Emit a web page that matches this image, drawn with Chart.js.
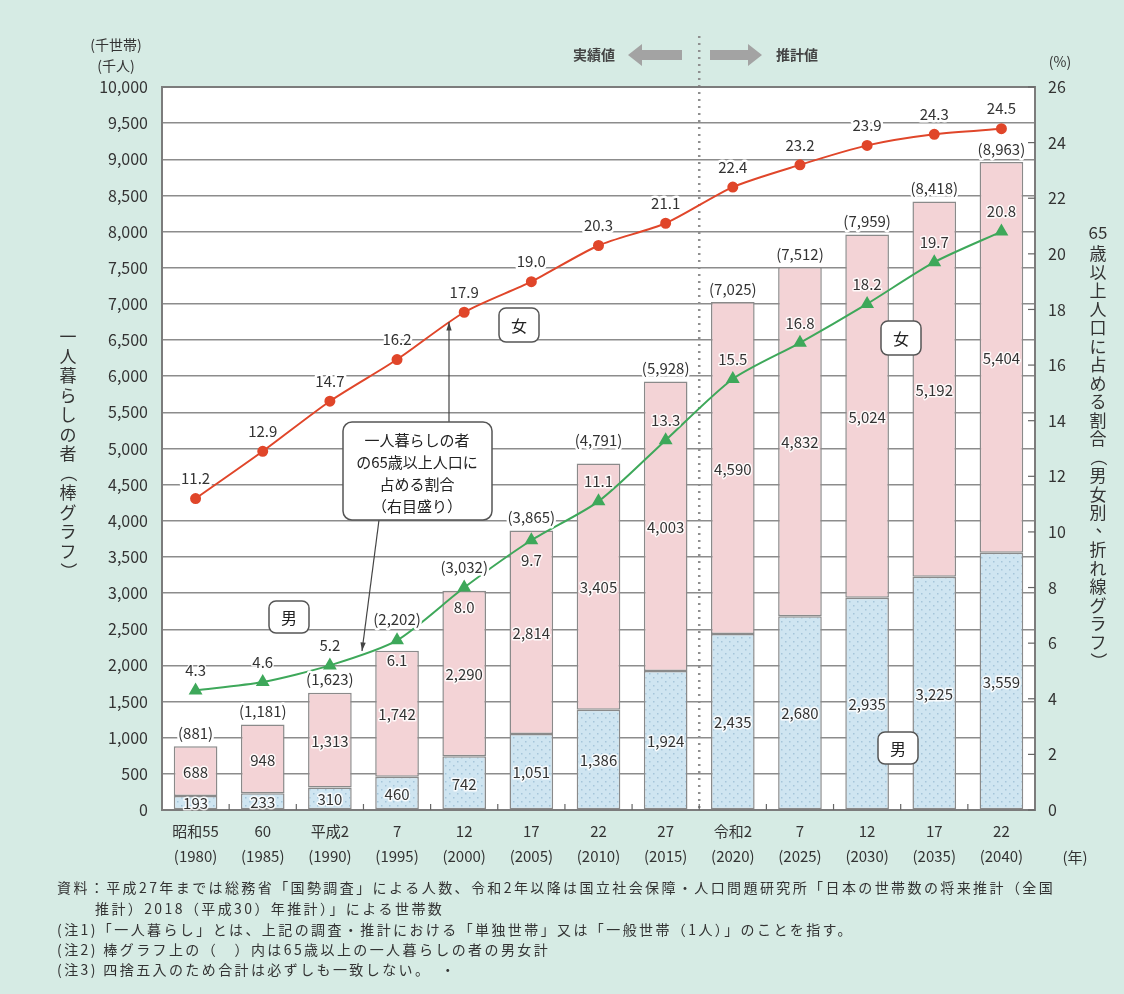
<!DOCTYPE html>
<html>
<head>
<meta charset="utf-8">
<script src="https://cdn.jsdelivr.net/npm/chart.js@4/dist/chart.umd.min.js"></script>
<style>
  body { margin: 0; background: #d6ebe4; }
  canvas { display: block; }
</style>
</head>
<body>
<canvas id="chart" width="1124" height="994"></canvas>
<script>
// data
const years = [
  ["昭和55", "(1980)"], ["60", "(1985)"], ["平成2", "(1990)"], ["7", "(1995)"],
  ["12", "(2000)"], ["17", "(2005)"], ["22", "(2010)"], ["27", "(2015)"],
  ["令和2", "(2020)"], ["7", "(2025)"], ["12", "(2030)"], ["17", "(2035)"], ["22", "(2040)"],
];
const maleCount = [193, 233, 310, 460, 742, 1051, 1386, 1924, 2435, 2680, 2935, 3225, 3559];
const femaleCount = [688, 948, 1313, 1742, 2290, 2814, 3405, 4003, 4590, 4832, 5024, 5192, 5404];
const totalCount = [881, 1181, 1623, 2202, 3032, 3865, 4791, 5928, 7025, 7512, 7959, 8418, 8963];
const femaleShare = [11.2, 12.9, 14.7, 16.2, 17.9, 19.0, 20.3, 21.1, 22.4, 23.2, 23.9, 24.3, 24.5];
const maleShare = [4.3, 4.6, 5.2, 6.1, 8.0, 9.7, 11.1, 13.3, 15.5, 16.8, 18.2, 19.7, 20.8];
const lastActualIndex = 7; // 平成27(2015), after this are projections

// label placement tweaks (pixels), so labels don't collide
const totalLift = { 3: 31, 4: 23, 6: 23 };
const maleLabelBelow = [3, 4, 5];

const FONT = '"Noto Sans CJK JP", "Noto Sans", sans-serif';
const TEXT = "#333";

const ctx = document.getElementById("chart").getContext("2d");

// dotted light blue fill for male bars
const dots = document.createElement("canvas");
dots.width = 8;
dots.height = 8;
const dctx = dots.getContext("2d");
dctx.fillStyle = "#cfe5f1";
dctx.fillRect(0, 0, 8, 8);
dctx.fillStyle = "#a5c5da";
dctx.fillRect(1, 1, 1.5, 1.5);
dctx.fillRect(5, 5, 1.5, 1.5);
const malePattern = ctx.createPattern(dots, "repeat");

function fmt(n) {
  return n.toLocaleString("en-US");
}

function haloText(c, text, x, y) {
  c.strokeText(text, x, y);
  c.fillText(text, x, y);
}

function roundBox(c, x, y, w, h, r) {
  c.beginPath();
  c.roundRect(x, y, w, h, r);
  c.fillStyle = "#fff";
  c.fill();
  c.lineWidth = 1.5;
  c.strokeStyle = "#555";
  c.stroke();
}

function arrow(c, x1, y1, x2, y2) {
  const ang = Math.atan2(y2 - y1, x2 - x1);
  c.beginPath();
  c.moveTo(x1, y1);
  c.lineTo(x2, y2);
  c.lineWidth = 1.2;
  c.strokeStyle = "#444";
  c.stroke();
  c.beginPath();
  c.moveTo(x2, y2);
  c.lineTo(x2 - 9 * Math.cos(ang - 0.3), y2 - 9 * Math.sin(ang - 0.3));
  c.lineTo(x2 - 9 * Math.cos(ang + 0.3), y2 - 9 * Math.sin(ang + 0.3));
  c.closePath();
  c.fillStyle = "#444";
  c.fill();
}

function verticalText(c, text, x, y, step) {
  let cy = y;
  for (const ch of text) {
    if ("（）".includes(ch)) {
      c.save();
      c.translate(x, cy);
      c.rotate(Math.PI / 2);
      c.fillText(ch, 0, 0);
      c.restore();
    } else if (ch === "、") {
      c.fillText(ch, x + 6, cy - 6);
    } else {
      c.fillText(ch, x, cy);
    }
    cy += step;
  }
}

function blockArrow(c, x1, x2, y, left) {
  c.beginPath();
  if (left) {
    c.moveTo(x1, y);
    c.lineTo(x1 + 14, y - 11);
    c.lineTo(x1 + 14, y - 5);
    c.lineTo(x2, y - 5);
    c.lineTo(x2, y + 5);
    c.lineTo(x1 + 14, y + 5);
    c.lineTo(x1 + 14, y + 11);
  } else {
    c.moveTo(x2, y);
    c.lineTo(x2 - 14, y - 11);
    c.lineTo(x2 - 14, y - 5);
    c.lineTo(x1, y - 5);
    c.lineTo(x1, y + 5);
    c.lineTo(x2 - 14, y + 5);
    c.lineTo(x2 - 14, y + 11);
  }
  c.closePath();
  c.fillStyle = "#a3a3a3";
  c.fill();
}

const decor = {
  id: "decor",
  beforeDraw(chart) {
    const { ctx: c, chartArea: a } = chart;
    c.save();
    c.fillStyle = "#d6ebe4";
    c.fillRect(0, 0, chart.width, chart.height);
    c.fillStyle = "#fff";
    c.fillRect(a.left, a.top, a.right - a.left, a.bottom - a.top);
    c.restore();
  },
  beforeDatasetsDraw(chart) {
    const { ctx: c, chartArea: a, scales } = chart;
    const x = scales.x;
    // dotted divider between actual and projected values
    const xd = (x.getPixelForValue(lastActualIndex) + x.getPixelForValue(lastActualIndex + 1)) / 2;
    c.save();
    c.setLineDash([2, 5]);
    c.lineWidth = 2.5;
    c.strokeStyle = "#8f8f8f";
    c.beginPath();
    c.moveTo(xd, 36);
    c.lineTo(xd, a.bottom);
    c.stroke();
    c.restore();
  },
  afterDatasetsDraw(chart) {
    const { ctx: c, chartArea: a, scales } = chart;
    const x = scales.x, y1 = scales.y1;
    c.save();

    // plot frame
    c.lineWidth = 2;
    c.strokeStyle = "#7c7c7c";
    c.strokeRect(a.left, a.top, a.right - a.left, a.bottom - a.top);

    // small ticks between categories and on right axis
    c.lineWidth = 1.2;
    c.strokeStyle = "#666";
    for (let i = 0; i < years.length - 1; i++) {
      const xm = (x.getPixelForValue(i) + x.getPixelForValue(i + 1)) / 2;
      c.beginPath();
      c.moveTo(xm, a.bottom);
      c.lineTo(xm, a.bottom - 6);
      c.stroke();
    }
    y1.ticks.forEach((t) => {
      const yy = y1.getPixelForValue(t.value);
      c.beginPath();
      c.moveTo(a.right, yy);
      c.lineTo(a.right - 7, yy);
      c.stroke();
    });

    // value labels
    c.font = "15px " + FONT;
    c.textAlign = "center";
    c.textBaseline = "middle";
    c.fillStyle = TEXT;
    c.strokeStyle = "rgba(255,255,255,0.85)";
    c.lineWidth = 3;
    c.lineJoin = "round";
    const maleMeta = chart.getDatasetMeta(0).data;
    const femaleMeta = chart.getDatasetMeta(1).data;
    maleMeta.forEach((el, i) => haloText(c, fmt(maleCount[i]), el.x, (el.y + el.base) / 2 + 1));
    femaleMeta.forEach((el, i) => {
      haloText(c, fmt(femaleCount[i]), el.x, (el.y + el.base) / 2 + 1);
    });
    c.lineWidth = 5;
    c.strokeStyle = "#fff";
    femaleMeta.forEach((el, i) =>
      haloText(c, "(" + fmt(totalCount[i]) + ")", el.x, el.y - (totalLift[i] || 13))
    );
    chart.getDatasetMeta(2).data.forEach((el, i) => haloText(c, femaleShare[i].toFixed(1), el.x, el.y - 20));
    c.lineWidth = 3;
    c.strokeStyle = "rgba(255,255,255,0.85)";
    chart.getDatasetMeta(3).data.forEach((el, i) => {
      const dy = maleLabelBelow.includes(i) ? 20 : -20;
      haloText(c, maleShare[i].toFixed(1), el.x, el.y + dy);
    });

    // annotation boxes
    c.font = "16px " + FONT;
    roundBox(c, 499, 308, 40, 34, 7);
    roundBox(c, 881, 321, 40, 34, 7);
    roundBox(c, 269, 601, 40, 32, 7);
    roundBox(c, 878, 732, 40, 32, 7);
    c.fillStyle = "#222";
    c.fillText("女", 519, 326);
    c.fillText("女", 901, 339);
    c.fillText("男", 289, 618);
    c.fillText("男", 898, 749);

    arrow(c, 449, 422, 449, 322);
    arrow(c, 379, 520, 362, 651);
    roundBox(c, 343, 422, 149, 98, 9);
    c.fillStyle = "#222";
    c.font = "15px " + FONT;
    ["一人暮らしの者", "の65歳以上人口に", "占める割合", "（右目盛り）"].forEach((t, i) =>
      c.fillText(t, 417, 440 + i * 22)
    );
    c.restore();
  },
  afterDraw(chart) {
    const c = chart.ctx;
    c.save();
    c.fillStyle = TEXT;
    c.textBaseline = "middle";
    c.textAlign = "center";

    c.font = "14px " + FONT;
    c.fillText("(千世帯)", 116, 45);
    c.fillText("(千人)", 116, 66);
    c.fillText("(%)", 1060, 62);
    c.font = "15px " + FONT;
    c.fillText("(年)", 1075, 857);

    // header
    c.font = "bold 14px " + FONT;
    c.fillStyle = "#444";
    c.fillText("実績値", 594, 55);
    c.fillText("推計値", 797, 55);
    blockArrow(c, 628, 682, 55, true);
    blockArrow(c, 710, 762, 55, false);

    // axis titles, vertical
    c.fillStyle = "#333";
    c.font = "17px " + FONT;
    verticalText(c, "一人暮らしの者（棒グラフ）", 68, 337, 19.5);
    c.fillText("65", 1098, 233);
    verticalText(c, "歳以上人口に占める割合（男女別、折れ線グラフ）", 1098, 254, 18.5);

    // notes
    c.textAlign = "left";
    c.fillStyle = "#333";
    c.font = "14px " + FONT;
    c.letterSpacing = "2.4px";
    const notes = [
      [57, 888, "資料：平成27年までは総務省「国勢調査」による人数、令和2年以降は国立社会保障・人口問題研究所「日本の世帯数の将来推計（全国"],
      [95, 909, "推計）2018（平成30）年推計）」による世帯数"],
      [57, 930, "(注1)「一人暮らし」とは、上記の調査・推計における「単独世帯」又は「一般世帯（1人）」のことを指す。"],
      [57, 950, "(注2) 棒グラフ上の（　）内は65歳以上の一人暮らしの者の男女計"],
      [57, 970, "(注3) 四捨五入のため合計は必ずしも一致しない。　・"],
    ];
    notes.forEach(([nx, ny, t]) => c.fillText(t, nx, ny));
    c.restore();
  },
};

new Chart(ctx, {
  data: {
    labels: years,
    datasets: [
      {
        type: "bar",
        label: "男",
        data: maleCount,
        backgroundColor: malePattern,
        borderColor: "#8a8a8a",
        borderWidth: 1.5,
        borderSkipped: false,
        barPercentage: 0.65,
        categoryPercentage: 1,
        yAxisID: "y",
        order: 2,
      },
      {
        type: "bar",
        label: "女",
        data: femaleCount,
        backgroundColor: "#f3d3d6",
        borderColor: "#8a8a8a",
        borderWidth: 1.5,
        borderSkipped: false,
        barPercentage: 0.65,
        categoryPercentage: 1,
        yAxisID: "y",
        order: 2,
      },
      {
        type: "line",
        label: "女 割合",
        data: femaleShare,
        borderColor: "#e0462a",
        backgroundColor: "#e0462a",
        borderWidth: 2,
        pointStyle: "circle",
        pointRadius: 4.5,
        tension: 0.25,
        yAxisID: "y1",
        order: 0,
      },
      {
        type: "line",
        label: "男 割合",
        data: maleShare,
        borderColor: "#3ea85a",
        backgroundColor: "#3ea85a",
        borderWidth: 2,
        pointStyle: "triangle",
        pointRadius: 6,
        tension: 0.25,
        yAxisID: "y1",
        order: 0,
      },
    ],
  },
  options: {
    responsive: false,
    animation: false,
    devicePixelRatio: 1,
    layout: { padding: { top: 87, left: 0, right: 0, bottom: 0 } },
    plugins: {
      legend: { display: false },
      tooltip: { enabled: false },
    },
    scales: {
      x: {
        stacked: true,
        grid: { display: false, drawTicks: false },
        border: { display: false },
        ticks: {
          color: TEXT,
          font: { family: FONT, size: 15, lineHeight: 1.65 },
          padding: 9,
          autoSkip: false,
          maxRotation: 0,
        },
        afterFit: (s) => { s.height = 184; },
      },
      y: {
        stacked: true,
        min: 0,
        max: 10000,
        grid: { color: "#8c8c8c", lineWidth: 1.5, drawTicks: false },
        border: { display: false },
        ticks: {
          stepSize: 500,
          color: TEXT,
          font: { family: FONT, size: 16 },
          padding: 14,
          callback: (v) => fmt(v),
        },
        afterFit: (s) => { s.width = 162; },
      },
      y1: {
        position: "right",
        min: 0,
        max: 26,
        grid: { drawOnChartArea: false, drawTicks: false },
        border: { display: false },
        ticks: {
          stepSize: 2,
          color: TEXT,
          font: { family: FONT, size: 16 },
          padding: 13,
        },
        afterFit: (s) => { s.width = 89; },
      },
    },
  },
  plugins: [decor],
});
</script>
</body>
</html>
